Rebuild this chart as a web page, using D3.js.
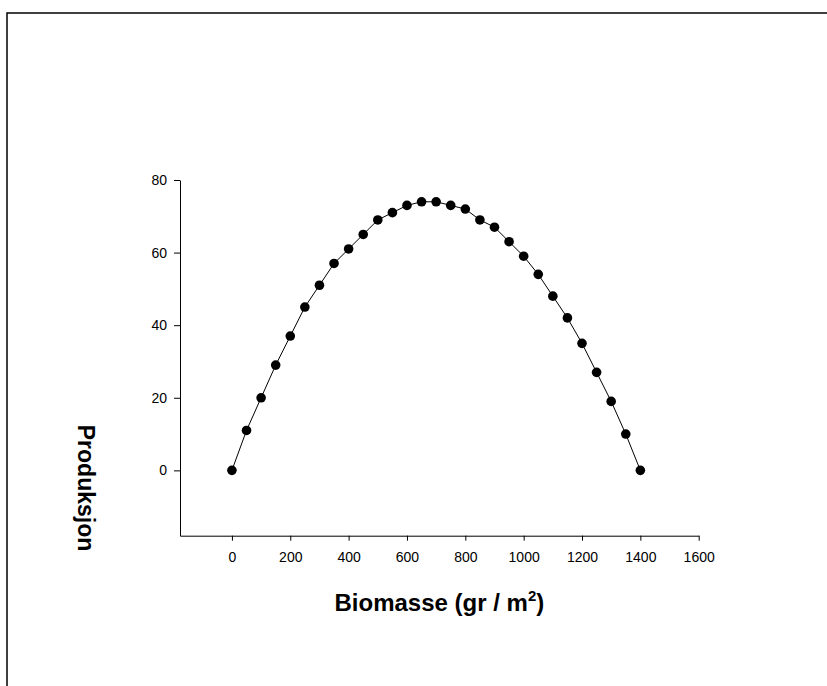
<!DOCTYPE html>
<html>
<head>
<meta charset="utf-8">
<script src="https://cdn.jsdelivr.net/npm/d3@7"></script>
<style>
  html, body { margin: 0; padding: 0; background: #fff; }
  svg { display: block; }
</style>
</head>
<body>
<svg id="chart" width="827" height="686"></svg>
<script>
const biomass = [0,50,100,150,200,250,300,350,400,450,500,550,600,650,700,750,800,850,900,950,1000,1050,1100,1150,1200,1250,1300,1350,1400];
const production = [0,11,20,29,37,45,51,57,61,65,69,71,73,74,74,73,72,69,67,63,59,54,48,42,35,27,19,10,0];
const xTicks = [0,200,400,600,800,1000,1200,1400,1600];
const yTicks = [0,20,40,60,80];
const xTitle = "Biomasse (gr / m";
const xTitleSup = "2";
const yTitle = "Produksjon";

const svg = d3.select("#chart");
const font = "'Liberation Sans', Arial, sans-serif";

// outer frame
svg.append("rect")
  .attr("x", 7).attr("y", 13)
  .attr("width", 900).attr("height", 800)
  .attr("fill", "none").attr("stroke", "#000").attr("stroke-width", 1.5);

const x = d3.scaleLinear().domain([-178, 1600]).range([180, 698.7]);
const y = d3.scaleLinear().domain([-18, 80]).range([535.7, 180]);

const yAxis = svg.append("g")
  .attr("transform", `translate(${x.range()[0]},0)`)
  .call(d3.axisLeft(y).tickValues(yTicks).tickSizeInner(6).tickSizeOuter(0).tickPadding(7).tickFormat(d3.format("d")));

const xAxis = svg.append("g")
  .attr("transform", `translate(0,${y.range()[0]})`)
  .call(d3.axisBottom(x).tickValues(xTicks).tickSizeInner(5).tickSizeOuter(0).tickPadding(11).tickFormat(d3.format("d")));

[xAxis, yAxis].forEach(g => {
  g.selectAll("text").attr("font-family", font).attr("font-size", 14).attr("fill", "#000");
  g.selectAll("line").attr("stroke", "#000");
  g.select(".domain").attr("stroke", "#000");
});

const data = biomass.map((b, i) => ({b, p: production[i]}));

svg.append("path")
  .datum(data)
  .attr("fill", "none")
  .attr("stroke", "#000")
  .attr("stroke-width", 1)
  .attr("d", d3.line().x(d => x(d.b)).y(d => y(d.p)));

svg.append("g").selectAll("circle")
  .data(data)
  .join("circle")
  .attr("cx", d => x(d.b))
  .attr("cy", d => y(d.p))
  .attr("r", 4.8)
  .attr("fill", "#000");

// x title
const xt = svg.append("text")
  .attr("x", (x.range()[0] + x.range()[1]) / 2)
  .attr("y", 611)
  .attr("text-anchor", "middle")
  .attr("font-family", font)
  .attr("font-weight", "bold")
  .attr("font-size", 24)
  .attr("fill", "#000");
xt.append("tspan").text(xTitle);
xt.append("tspan").attr("font-size", 15).attr("dy", -10).text(xTitleSup);
xt.append("tspan").attr("dy", 10).text(")");

// y title
svg.append("text")
  .attr("transform", "translate(78,488) rotate(90)")
  .attr("text-anchor", "middle")
  .attr("font-family", font)
  .attr("font-weight", "bold")
  .attr("font-size", 23)
  .attr("fill", "#000")
  .text(yTitle);
</script>
</body>
</html>
